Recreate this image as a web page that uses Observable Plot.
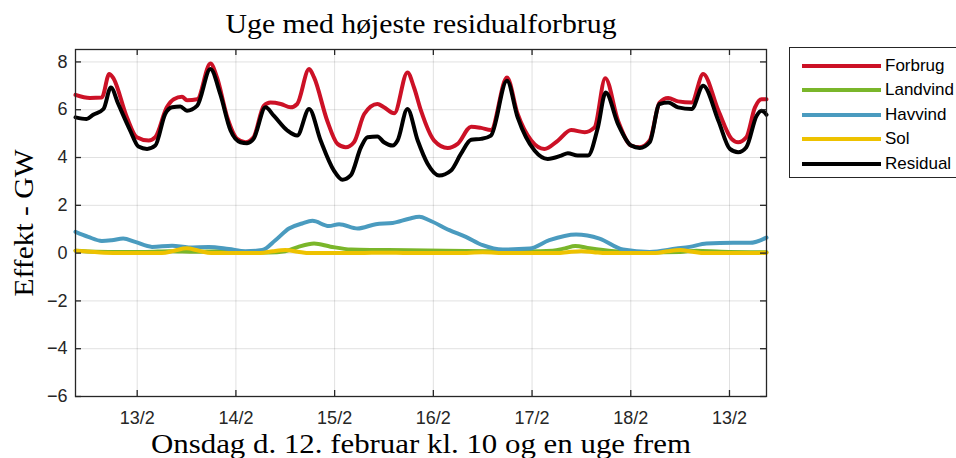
<!DOCTYPE html>
<html><head><meta charset="utf-8">
<script src="https://cdn.jsdelivr.net/npm/d3@7"></script>
<script src="https://cdn.jsdelivr.net/npm/@observablehq/plot@0.6"></script>
<style>
body{margin:0;background:#fff;}
#wrap{position:relative;width:956px;height:458px;overflow:hidden;}
#legend{position:absolute;left:789px;top:47px;width:200px;height:131px;border:1px solid #262626;background:#fff;box-sizing:border-box;font-family:"Liberation Sans",Arial,sans-serif;font-size:17px;color:#000;}
.row{position:absolute;left:12px;height:20px;display:flex;align-items:center;white-space:nowrap;}
.sw{width:79px;height:4px;margin-right:4px;}
</style></head><body><div id="wrap"></div>
<script>
// ---- data (hours after 13/2 00:00, GW) ----
const xTicks = [0, 24, 48, 72, 96, 120, 144];
const xTickLabels = ["13/2", "14/2", "15/2", "16/2", "17/2", "18/2", "13/2"];
const yTicks = [-6, -4, -2, 0, 2, 4, 6, 8];
const seriesNames = ["Forbrug", "Landvind", "Havvind", "Sol", "Residual"];
const seriesColors = ["#cc1126", "#7ab62a", "#4a9bbf", "#eec200", "#000000"];

const forbrugHours = [-15,-11.5,-8.6,-6.8,-5.9,-2.5,-0.1,2.8,4.4,7.2,8.9,10.9,12.1,14.6,17.8,19.4,21.9,24.3,26.3,28.3,30.8,32.4,34.9,37.3,38.9,41.8,43.0,46.2,48.7,50.7,52.7,55.2,58.4,60.0,62.5,65.7,67.3,69.0,72.2,75.5,77.9,81.2,83.6,86.0,89.9,92.5,95.8,99.0,102.3,105.5,108.8,111.2,113.8,116.9,120.1,122.2,124.6,127.0,129.1,131.5,134.8,137.6,141.3,144.5,146.1,148.1,150.2,151.8,153.0];
const forbrugGW = [6.62,6.49,6.51,7.49,7.35,5.68,4.85,4.71,4.85,6.1,6.44,6.54,6.4,6.44,7.93,7.35,5.68,4.78,4.64,4.85,6.17,6.3,6.24,6.1,6.24,7.7,7.35,5.54,4.57,4.43,4.64,5.82,6.24,6.1,5.85,7.56,6.93,5.96,4.71,4.40,4.57,5.29,5.24,5.15,7.35,5.82,4.71,4.36,4.71,5.15,5.06,5.26,7.32,5.54,4.5,4.43,4.71,6.3,6.49,6.35,6.3,7.49,5.96,4.78,4.64,4.85,6.1,6.44,6.44];

const landvindHours = [-15,-10,-4,2,8,14,20,26,32,36,39,43,47,52,58,66,75,85,95,101,104,106.5,110,116,124,132,136,142,153];
const landvindGW = [0.1,0.06,0.05,0.05,0.08,0.06,0.08,0.05,0.03,0.08,0.25,0.4,0.27,0.15,0.13,0.12,0.1,0.08,0.07,0.1,0.2,0.3,0.2,0.08,0.03,0.05,0.1,0.06,0.04];

const havvindHours = [-15,-11.9,-8.6,-6.2,-3.4,-0.5,3.6,8.5,12.5,17.4,22.3,26.3,30.4,33.6,36.9,40.1,42.6,46.6,49.1,53.6,58.0,62.1,66.1,68.6,71.0,75.9,79.9,84.0,88.9,95.4,100.2,106.7,112.4,118.1,124.6,131.1,134.3,138.4,144.9,149.0,153.0];
const havvindGW = [0.89,0.68,0.51,0.54,0.61,0.47,0.26,0.31,0.24,0.26,0.17,0.08,0.13,0.54,1.03,1.24,1.35,1.13,1.21,1.03,1.21,1.26,1.44,1.52,1.375,0.96,0.68,0.33,0.15,0.19,0.54,0.78,0.61,0.15,0.05,0.19,0.26,0.40,0.43,0.43,0.65];

const solHours = [-15,-12,-8,-4,6,9,12,15,18,30,33,36,39,42,54,60,66,78,84,90,102,105,108,111,114,126,129,132,135,138,150,153];
const solGW = [0.1,0.07,0.02,0,0,0.1,0.2,0.1,0,0,0.08,0.13,0.06,0,0,0.02,0,0,0.04,0,0,0.05,0.08,0.04,0,0,0.08,0.13,0.06,0,0,0.02];

const residualHours = [-15,-12.3,-10.7,-8.2,-6.4,-4.6,-1.7,0.3,2.4,4.4,6.8,8.5,10.5,12.1,14.6,17.8,20.2,22.7,25.1,26.7,28.3,31.2,33.2,36.5,38.9,41.8,44.6,47.8,49.9,51.9,54.4,56.0,58.4,60.0,62.1,63.3,65.7,68.2,70.6,73.4,76.3,78.7,81.2,83.6,86.0,89.9,92.5,96.6,99.8,103.1,104.7,107.1,109.6,112.0,113.9,116.9,120.1,122.2,124.6,127.0,129.1,131.5,134.8,137.6,141.3,144.1,146.1,148.1,150.6,151.8,153.0];
const residualGW = [5.68,5.61,5.79,6.03,6.93,6.24,5.13,4.46,4.36,4.5,5.82,6.1,6.13,5.96,6.17,7.7,6.65,5.13,4.64,4.6,4.78,6.1,5.75,5.13,4.92,6.03,4.71,3.46,3.07,3.25,4.43,4.85,4.88,4.64,4.5,4.71,6.03,4.71,3.74,3.25,3.46,4.15,4.74,4.78,4.92,7.21,5.68,4.29,3.94,4.08,4.18,4.08,4.08,5.26,6.72,5.4,4.5,4.4,4.64,6.24,6.3,6.1,6.03,7.0,5.54,4.36,4.22,4.43,5.75,5.96,5.79];

const titleText = "Uge med højeste residualforbrug";
const xLabelText = "Onsdag d. 12. februar kl. 10 og en uge frem";
const yLabelText = "Effekt - GW";

// ---- build table ----
const seriesData = [
  [forbrugHours, forbrugGW], [landvindHours, landvindGW], [havvindHours, havvindGW],
  [solHours, solGW], [residualHours, residualGW]
];
const rows = [];
seriesData.forEach(([hs, vs], s) => hs.forEach((h, i) => rows.push({series: seriesNames[s], t: h, v: vs[i]})));

const W = 956, H = 458, mL = 75, mR = 190, mT = 49, mB = 62;
const fw = W - mL - mR, fh = H - mT - mB, tl = 6;
const axisColor = "#262626";
const serif = "'Liberation Serif', 'Times New Roman', serif";

const chart = Plot.plot({
  width: W, height: H,
  marginLeft: mL, marginRight: mR, marginTop: mT, marginBottom: mB,
  style: {fontFamily: "'Liberation Sans', Arial, sans-serif", fontSize: "18px", background: "#fff", overflow: "visible"},
  x: {domain: [-15, 153]},
  y: {domain: [-6, 8.52]},
  color: {domain: seriesNames, range: seriesColors},
  marks: [
    Plot.gridX(xTicks, {stroke: "#000", strokeOpacity: 0.12, strokeWidth: 1}),
    Plot.gridY(yTicks, {stroke: "#000", strokeOpacity: 0.12, strokeWidth: 1}),
    Plot.line(rows, {x: "t", y: "v", z: "series", stroke: "series", strokeWidth: 4, curve: "monotone-x", strokeLinejoin: "round"}),
    Plot.frame({stroke: axisColor, strokeWidth: 1.3}),
    Plot.ruleX(xTicks, {x: d => d, insetTop: fh - tl, stroke: axisColor, strokeWidth: 1.3}),
    Plot.ruleX(xTicks, {x: d => d, insetBottom: fh - tl, stroke: axisColor, strokeWidth: 1.3}),
    Plot.ruleY(yTicks, {y: d => d, insetRight: fw - tl, stroke: axisColor, strokeWidth: 1.3}),
    Plot.ruleY(yTicks, {y: d => d, insetLeft: fw - tl, stroke: axisColor, strokeWidth: 1.3}),
    Plot.axisX(xTicks, {tickSize: 0, tickPadding: 15, fontSize: 18, fill: axisColor, tickFormat: d => xTickLabels[xTicks.indexOf(d)], label: null}),
    Plot.axisY(yTicks, {tickSize: 0, tickPadding: 8, fontSize: 18, fill: axisColor, label: null}),
    Plot.text([titleText], {text: d => d, frameAnchor: "top", lineAnchor: "middle", textAnchor: "middle", dy: -25, fontSize: 27, fontFamily: serif, fill: "#000", className: "ttl"}),
    Plot.text([xLabelText], {text: d => d, frameAnchor: "bottom", lineAnchor: "middle", textAnchor: "middle", dy: 48, fontSize: 27, fontFamily: serif, fill: "#000", className: "xlab"}),
    Plot.text([yLabelText], {text: d => d, frameAnchor: "left", lineAnchor: "middle", textAnchor: "middle", dx: -51, rotate: -90, fontSize: 27, fontFamily: serif, fill: "#000", className: "ylab"})
  ]
});
document.getElementById("wrap").appendChild(chart);

// fit serif labels to reference widths
function fit(cls, len) {
  d3.select(chart).selectAll("g." + cls + " text").attr("textLength", len).attr("lengthAdjust", "spacingAndGlyphs");
}
fit("ttl", 391); fit("xlab", 540); fit("ylab", 147);

// legend
const leg = document.createElement("div");
leg.id = "legend";
const rowTops = [18, 42.3, 67, 91.3, 115.7];
seriesNames.forEach((n, i) => {
  const r = document.createElement("div");
  r.className = "row";
  r.style.top = (rowTops[i] - 10) + "px";
  r.innerHTML = `<span class="sw" style="background:${seriesColors[i]}"></span><span>${n}</span>`;
  leg.appendChild(r);
});
document.getElementById("wrap").appendChild(leg);
</script>
</body></html>
